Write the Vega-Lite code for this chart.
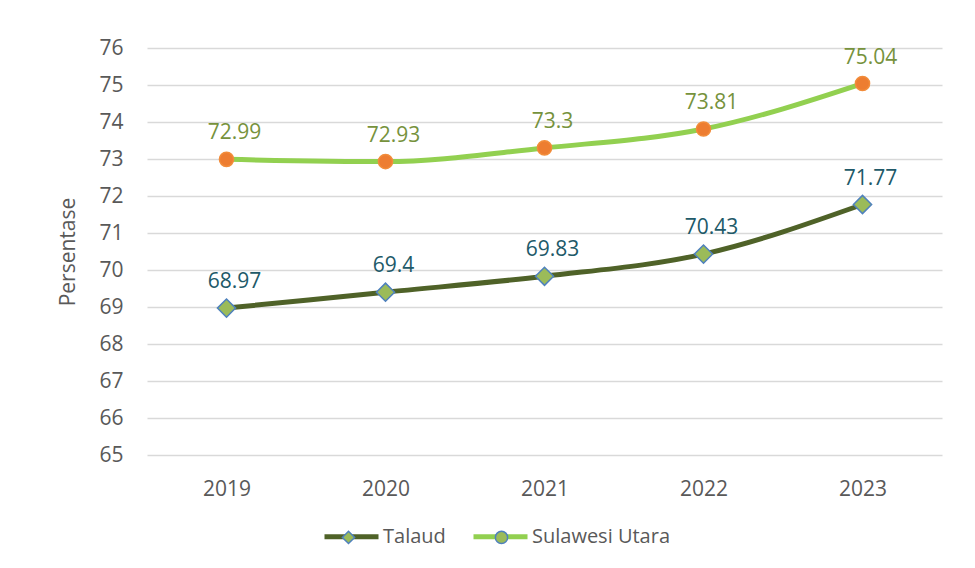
{
  "$schema": "https://vega.github.io/schema/vega-lite/v6.json",
  "width": 795,
  "height": 407,
  "autosize": "none",
  "padding": {"left": 147, "top": 48, "right": 33, "bottom": 113},
  "background": "white",
  "config": {"font": "Open Sans", "view": {"stroke": null}},
  "data": {
    "values": [
      {"year": "2019", "series": "Talaud", "value": 68.97},
      {"year": "2020", "series": "Talaud", "value": 69.4},
      {"year": "2021", "series": "Talaud", "value": 69.83},
      {"year": "2022", "series": "Talaud", "value": 70.43},
      {"year": "2023", "series": "Talaud", "value": 71.77},
      {"year": "2019", "series": "Sulawesi Utara", "value": 72.99},
      {"year": "2020", "series": "Sulawesi Utara", "value": 72.93},
      {"year": "2021", "series": "Sulawesi Utara", "value": 73.3},
      {"year": "2022", "series": "Sulawesi Utara", "value": 73.81},
      {"year": "2023", "series": "Sulawesi Utara", "value": 75.04}
    ]
  },
  "encoding": {
    "x": {
      "field": "year", "type": "ordinal",
      "scale": {"type": "point", "padding": 0.5},
      "axis": {"title": null, "labelAngle": 0, "ticks": false, "domain": false, "grid": false,
               "labelFontSize": 21, "labelColor": "#595959", "labelPadding": 23}
    },
    "y": {
      "field": "value", "type": "quantitative",
      "scale": {"domain": [65, 76], "zero": false, "nice": false},
      "axis": {"title": "Persentase", "values": [65,66,67,68,69,70,71,72,73,74,75,76],
               "ticks": false, "domain": false, "grid": true, "gridColor": "#D9D9D9", "gridWidth": 1.5,
               "labelFontSize": 21, "labelColor": "#595959", "labelPadding": 24,
               "titleFontSize": 21, "titleFontWeight": "normal", "titleColor": "#595959", "titlePadding": 20}
    }
  },
  "layer": [
    {
      "mark": {"type": "line", "interpolate": "monotone", "strokeWidth": 5},
      "encoding": {
        "color": {
          "field": "series", "type": "nominal",
          "scale": {"domain": ["Talaud", "Sulawesi Utara"], "range": ["#4F6228", "#92D050"]},
          "legend": {"title": null, "orient": "none", "legendX": 175, "legendY": 459, "direction": "horizontal",
                     "symbolType": "stroke", "symbolSize": 2916, "symbolStrokeWidth": 5,
                     "labelFontSize": 20, "labelColor": "#595959", "labelOffset": 2, "columnPadding": 17}
        }
      }
    },
    {
      "mark": {"type": "point", "filled": true, "opacity": 1, "strokeWidth": 1.5},
      "encoding": {
        "shape": {
          "field": "series", "type": "nominal", "sort": ["Talaud", "Sulawesi Utara"],
          "scale": {"range": ["diamond", "circle"]},
          "legend": {"title": null, "orient": "none", "legendX": 194.5, "legendY": 482, "direction": "horizontal",
                     "symbolSize": 150, "symbolStrokeWidth": 1.5, "labelExpr": "''",
                     "symbolFillColor": "#9BBB59", "symbolStrokeColor": "#4F81BD",
                     "labelOffset": 119, "columnPadding": 17,
                     "encode": {"symbols": {"update": {
                       "fill": [{"test": "datum.value === 'Talaud'", "value": "#9BBB59"}, {"value": "#ED7D31"}],
                       "stroke": [{"test": "datum.value === 'Talaud'", "value": "#4F81BD"}, {"value": "#F28C3A"}]}}}}
        },
        "fill": {
          "field": "series", "type": "nominal", "sort": ["Talaud", "Sulawesi Utara"],
          "scale": {"range": ["#9BBB59", "#ED7D31"]},
          "legend": null
        },
        "stroke": {
          "field": "series", "type": "nominal", "sort": ["Talaud", "Sulawesi Utara"],
          "scale": {"range": ["#4F81BD", "#F28C3A"]},
          "legend": null
        },
        "size": {
          "field": "series", "type": "nominal", "sort": ["Talaud", "Sulawesi Utara"],
          "scale": {"range": [330, 200]},
          "legend": null
        }
      }
    },
    {
      "transform": [{"filter": "datum.series === 'Talaud'"}],
      "mark": {"type": "text", "fontSize": 21, "baseline": "alphabetic", "dy": -20, "dx": 8, "color": "#215968"},
      "encoding": {"text": {"field": "value", "type": "quantitative"}}
    },
    {
      "transform": [{"filter": "datum.series === 'Sulawesi Utara'"}],
      "mark": {"type": "text", "fontSize": 21, "baseline": "alphabetic", "dy": -20, "dx": 8, "color": "#76923C"},
      "encoding": {"text": {"field": "value", "type": "quantitative"}}
    }
  ]
}
